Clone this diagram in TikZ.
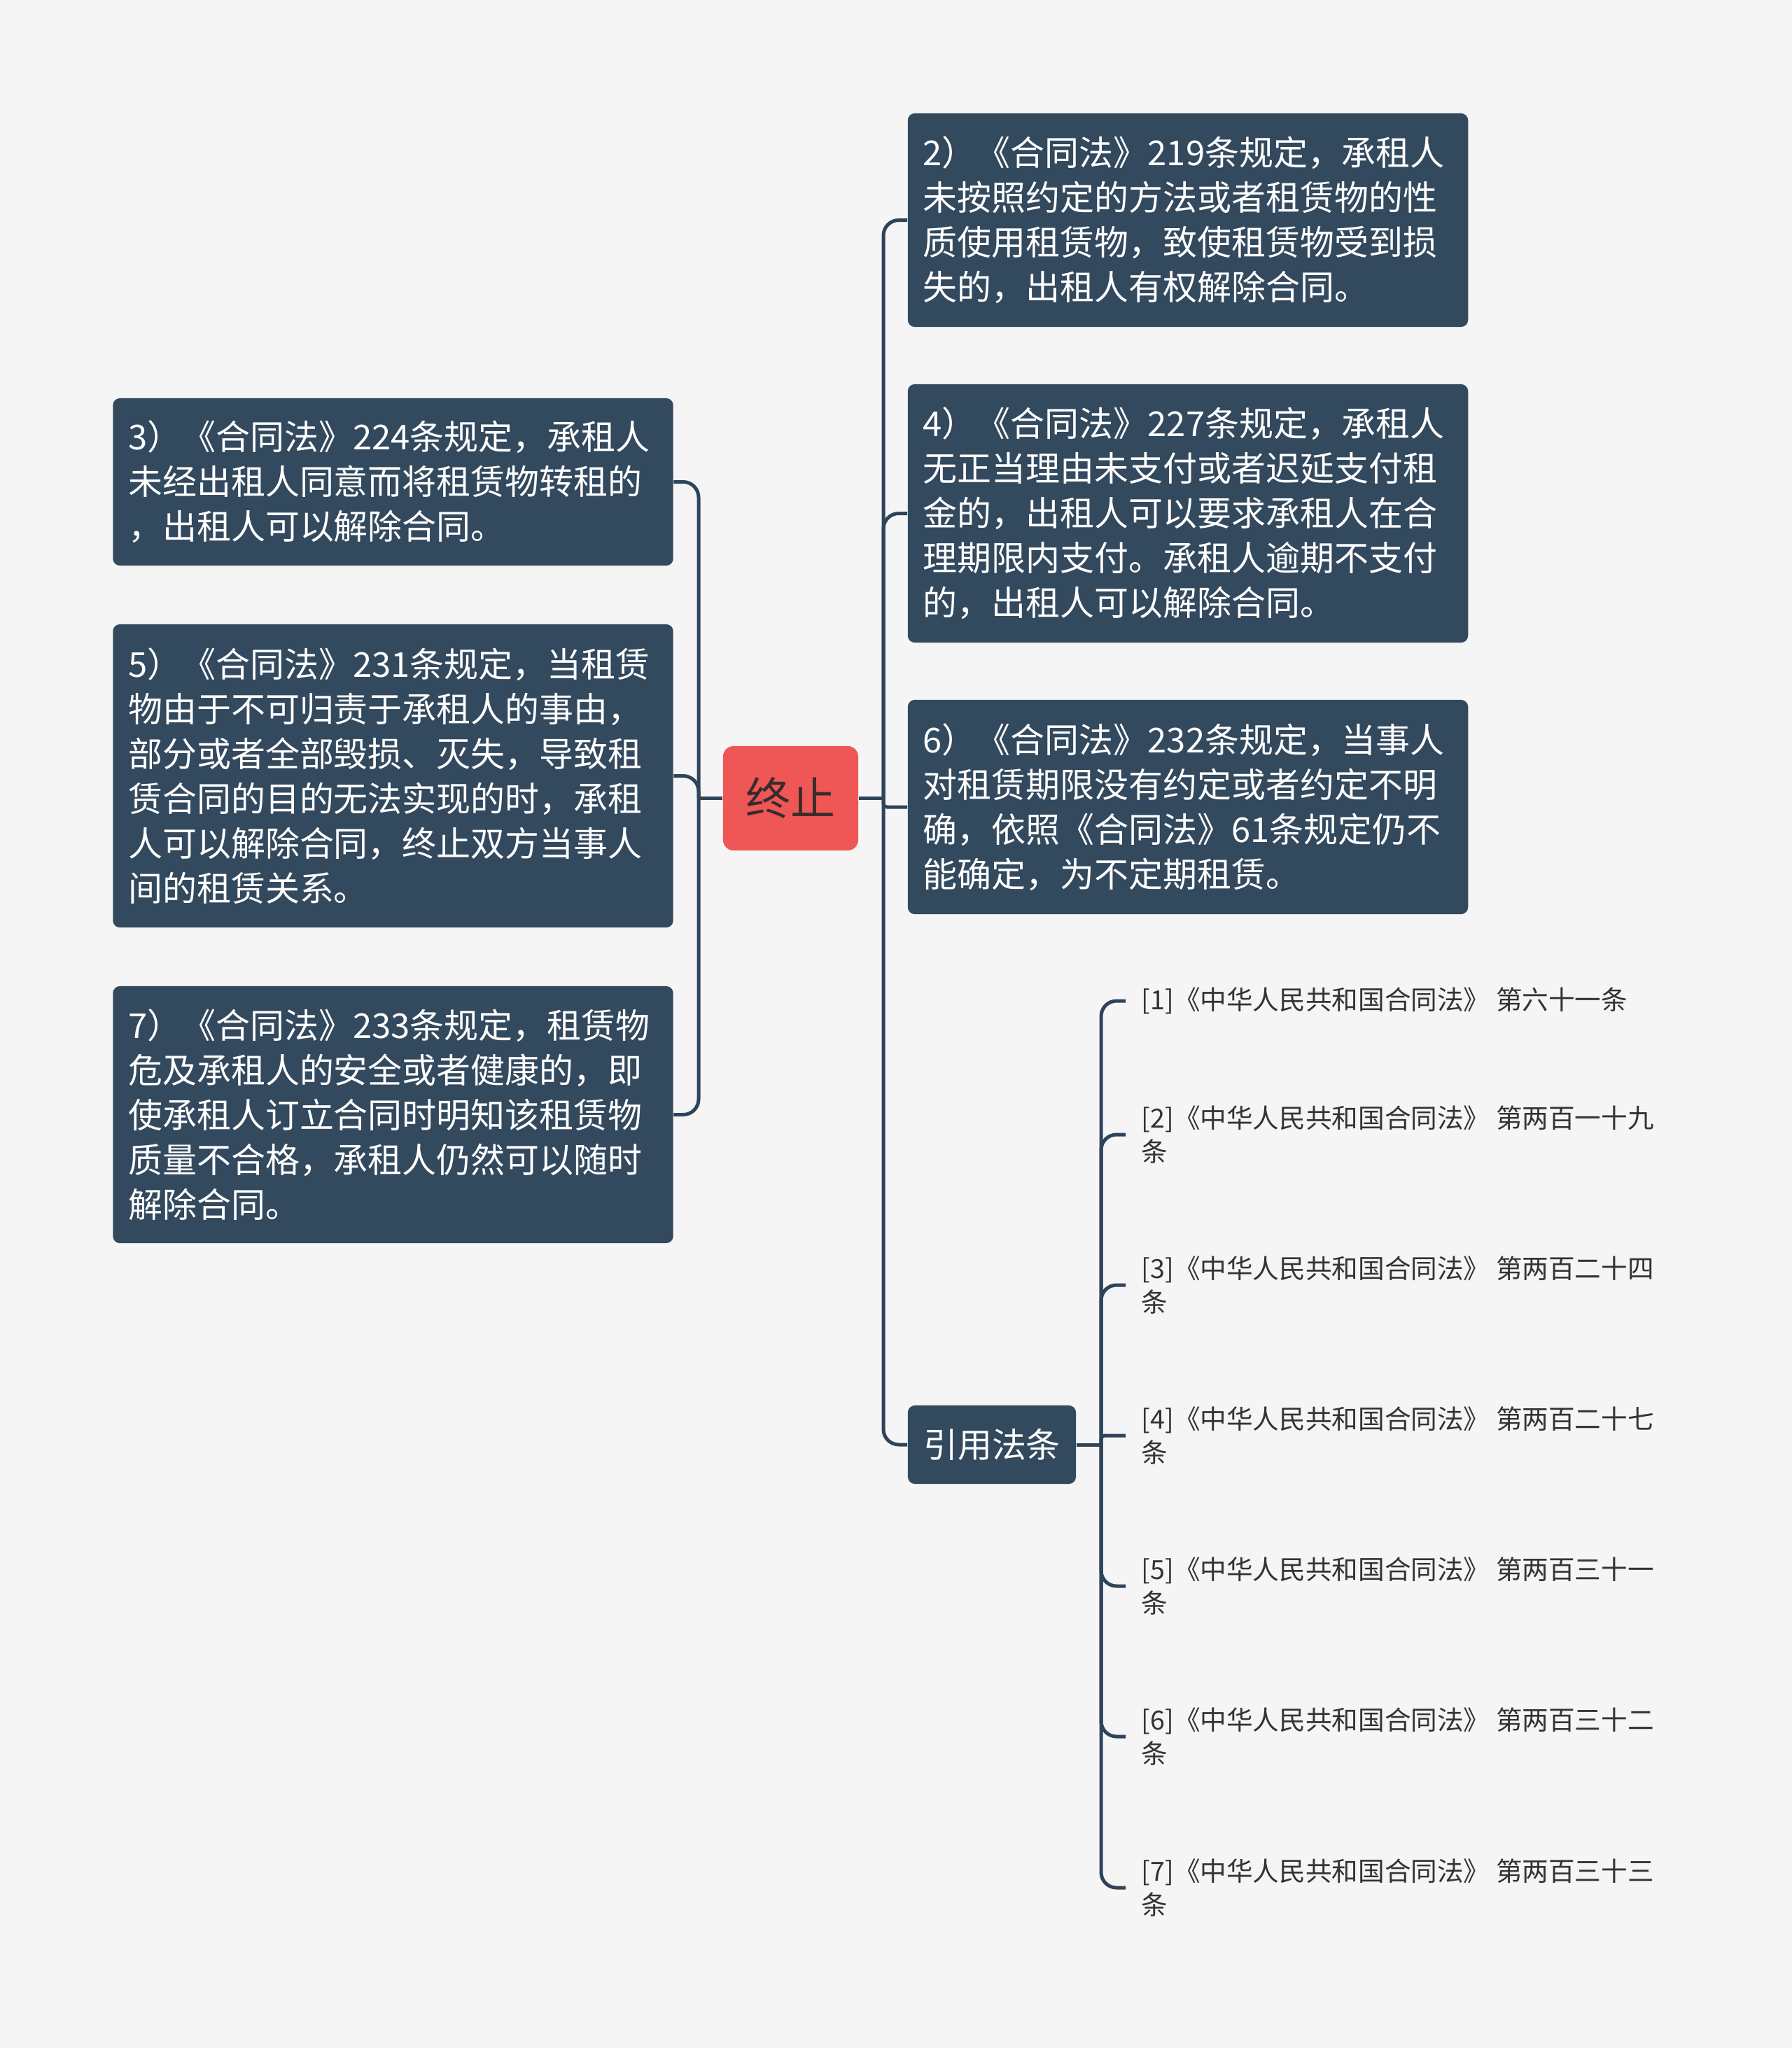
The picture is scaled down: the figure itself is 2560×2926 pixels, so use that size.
\documentclass[tikz,border=0pt]{standalone}
\usepackage{fontspec}
\setmainfont{Noto Sans CJK SC}
\definecolor{bgc}{HTML}{F5F5F5}
\definecolor{boxc}{HTML}{33495E}
\definecolor{linec}{HTML}{2F4459}
\definecolor{redc}{HTML}{EF5656}
\definecolor{rootText}{HTML}{3A2B2B}
\definecolor{leafText}{HTML}{333333}
\begin{document}
\begin{tikzpicture}[x=0.01cm,y=-0.01cm,
  mainbox/.style={fill=boxc, text=white, rounded corners=0.1cm, align=left,
    text width=7.56cm, inner xsep=0.22cm, inner ysep=0cm,
    font=\fontsize{13.92pt}{18.2pt}\selectfont},
  rootbox/.style={fill=redc, text=rootText, rounded corners=0.15cm,
    minimum width=1.93cm, minimum height=1.49cm, inner sep=0cm,
    font=\fontsize{18.2pt}{22pt}\selectfont},
  subbox/.style={fill=boxc, text=white, rounded corners=0.1cm,
    minimum width=2.4cm, minimum height=1.12cm, inner sep=0cm,
    font=\fontsize{13.92pt}{18.2pt}\selectfont},
  leaf/.style={anchor=west, align=left, inner xsep=0.22cm, inner ysep=0cm,
    text=leafText, font=\fontsize{10.7pt}{13.66pt}\selectfont},
  conn/.style={draw=linec, line width=0.05cm, rounded corners=0.22cm},
  connsmall/.style={draw=linec, line width=0.05cm, rounded corners=0.05cm}]
\fill[bgc] (0,0) rectangle (2560,2926);
\useasboundingbox (0,0) rectangle (2560,2926);

% root
\node[rootbox] (root) at (1129.5,1140.5) {终止};

% right side
\node[mainbox, minimum height=3.05cm] (b2) at (1697,314.5) {2）《合同法》219条规定，承租人\\未按照约定的方法或者租赁物的性\\质使用租赁物，致使租赁物受到损\\失的，出租人有权解除合同。};
\node[mainbox, minimum height=3.69cm] (b4) at (1697,733.5) {4）《合同法》227条规定，承租人\\无正当理由未支付或者迟延支付租\\金的，出租人可以要求承租人在合\\理期限内支付。承租人逾期不支付\\的，出租人可以解除合同。};
\node[mainbox, minimum height=3.06cm] (b6) at (1697,1153) {6）《合同法》232条规定，当事人\\对租赁期限没有约定或者约定不明\\确，依照《合同法》61条规定仍不\\能确定，为不定期租赁。};
\node[subbox] (ref) at (1417,2064) {引用法条};

% left side
\node[mainbox, minimum height=2.39cm] (b3) at (561.5,688.5) {3）《合同法》224条规定，承租人\\未经出租人同意而将租赁物转租的\\，出租人可以解除合同。};
\node[mainbox, minimum height=4.33cm] (b5) at (561.5,1108.5) {5）《合同法》231条规定，当租赁\\物由于不可归责于承租人的事由，\\部分或者全部毁损、灭失，导致租\\赁合同的目的无法实现的时，承租\\人可以解除合同，终止双方当事人\\间的租赁关系。};
\node[mainbox, minimum height=3.67cm] (b7) at (561.5,1592.5) {7）《合同法》233条规定，租赁物\\危及承租人的安全或者健康的，即\\使承租人订立合同时明知该租赁物\\质量不合格，承租人仍然可以随时\\解除合同。};

% leaves
\node[leaf] (l1) at (1608,1430) {[1]《中华人民共和国合同法》 第六十一条};
\node[leaf] (l2) at (1608,1621) {[2]《中华人民共和国合同法》 第两百一十九\\条};
\node[leaf] (l3) at (1608,1836) {[3]《中华人民共和国合同法》 第两百二十四\\条};
\node[leaf] (l4) at (1608,2051) {[4]《中华人民共和国合同法》 第两百二十七\\条};
\node[leaf] (l5) at (1608,2266) {[5]《中华人民共和国合同法》 第两百三十一\\条};
\node[leaf] (l6) at (1608,2481) {[6]《中华人民共和国合同法》 第两百三十二\\条};
\node[leaf] (l7) at (1608,2697) {[7]《中华人民共和国合同法》 第两百三十三\\条};

% junctions
\coordinate (rj) at (1262,1140);
\coordinate (lj) at (998,1140);
\coordinate (fj) at (1573,2064);

% connectors
\draw[conn] (root.east |- rj) -- (rj);
\draw[conn] (rj) |- (b2.west);
\draw[conn] (rj) |- (b4.west);
\draw[connsmall] (rj) |- (b6.west);
\draw[conn] (rj) |- (ref.west);

\draw[conn] (root.west |- lj) -- (lj);
\draw[conn] (lj) |- (b3.east);
\draw[conn] (lj) |- (b5.east);
\draw[conn] (lj) |- (b7.east);

\draw[conn] (ref.east) -- (fj);
\draw[conn] (fj) |- (l1.west);
\draw[conn] (fj) |- (l2.west);
\draw[conn] (fj) |- (l3.west);
\draw[connsmall] (fj) |- (l4.west);
\draw[conn] (fj) |- (l5.west);
\draw[conn] (fj) |- (l6.west);
\draw[conn] (fj) |- (l7.west);
\end{tikzpicture}
\end{document}
